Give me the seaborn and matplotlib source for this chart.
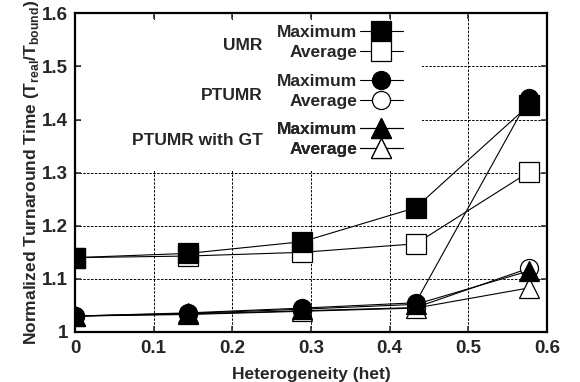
import matplotlib
matplotlib.use("Agg")
import matplotlib.pyplot as plt
from matplotlib.patches import Rectangle
import seaborn as sns

# heterogeneity values on the x axis
het = [0.0, 0.144, 0.289, 0.433, 0.577]

# normalized turnaround time
umr_max = [1.140, 1.148, 1.170, 1.234, 1.427]
umr_avg = [1.140, 1.143, 1.150, 1.166, 1.301]
ptumr_max = [1.030, 1.036, 1.045, 1.055, 1.440]
ptumr_avg = [1.030, 1.034, 1.040, 1.046, 1.120]
gt_max = [1.030, 1.035, 1.043, 1.052, 1.115]
gt_avg = [1.030, 1.033, 1.039, 1.045, 1.083]

xticks = [0, 0.1, 0.2, 0.3, 0.4, 0.5, 0.6]
xtick_labels = ["0", "0.1", "0.2", "0.3", "0.4", "0.5", "0.6"]
yticks = [1.0, 1.1, 1.2, 1.3, 1.4, 1.5, 1.6]
ytick_labels = ["1", "1.1", "1.2", "1.3", "1.4", "1.5", "1.6"]

groups = ["UMR", "PTUMR", "PTUMR with GT"]

sns.set_style("ticks")
plt.rcParams["font.family"] = ["Liberation Sans", "DejaVu Sans"]
plt.rcParams["font.weight"] = "bold"
plt.rcParams["mathtext.fontset"] = "custom"
plt.rcParams["mathtext.rm"] = "Liberation Sans:bold"
plt.rcParams["mathtext.bf"] = "Liberation Sans:bold"

fig = plt.figure(figsize=(5.8, 3.82), dpi=100)
ax = fig.add_axes([0.1293, 0.1309, 0.8138, 0.8343])

# draw order: average first so the filled markers sit on top
series = [
    (umr_avg, "s", "white", 15),
    (umr_max, "s", "black", 15),
    (ptumr_avg, "o", "white", 13),
    (ptumr_max, "o", "black", 13),
    (gt_avg, "^", "white", 14),
    (gt_max, "^", "black", 14),
]
lines = []
for vals, mk, face, ms in series:
    sns.lineplot(x=het, y=vals, ax=ax, color="black", linewidth=0.8,
                 marker=mk, markersize=ms, markerfacecolor=face,
                 markeredgecolor="black", markeredgewidth=0.9)
    lines.append(ax.lines[-1])

ax.set_xlim(0, 0.6)
ax.set_ylim(1.0, 1.6)
ax.set_xticks(xticks, xtick_labels)
ax.set_yticks(yticks, ytick_labels)
tick_len = 4.5
ax.tick_params(direction="in", top=True, right=True, length=tick_len,
               width=1.1, labelsize=13.5, pad=5)
ax.tick_params(axis="x", pad=6)
for lab in ax.get_xticklabels() + ax.get_yticklabels():
    lab.set_fontweight("bold")
for sp in ax.spines.values():
    sp.set_linewidth(1.6)
    sp.set_color("black")

ax.set_axisbelow(True)
ax.grid(True, color="black", linestyle=(0, (2.5, 1.5)), linewidth=0.7)

# white area behind the legend block hides the grid there (ticks stay visible)
bw = fig.get_size_inches() * fig.dpi
ax_px = ax.get_position()
tl_px = tick_len * fig.dpi / 72
dx = tl_px / (ax_px.width * bw[0])
dy = tl_px / (ax_px.height * bw[1])
ax.add_patch(Rectangle((dx, 0.506), 0.735 - dx, 1 - dy - 0.506,
                       transform=ax.transAxes, facecolor="white",
                       edgecolor="none", zorder=1))

ax.set_xlabel("Heterogeneity (het)", fontsize=12.5, fontweight="bold",
              labelpad=7)
ax.set_ylabel(r"Normalized Turnaround Time (T$_{\mathbf{real}}$/T$_{\mathbf{bound}}$)",
              fontsize=12.5, fontweight="bold", labelpad=1)

# legend: three blocks, each with a group name on the left
leg_y = [0.909, 0.755, 0.603]
label_y = [0.900, 0.743, 0.602]
for i, name in enumerate(groups):
    avg_line, max_line = lines[2 * i], lines[2 * i + 1]
    leg = ax.legend([max_line, avg_line], ["Maximum", "Average"],
                    loc="center right", bbox_to_anchor=(0.695, leg_y[i]),
                    bbox_transform=ax.transAxes, frameon=False,
                    borderaxespad=0, borderpad=0, handlelength=2.5,
                    handletextpad=0.15, labelspacing=0.28, markerfirst=False,
                    prop={"size": 12.5, "weight": "bold"})
    ax.add_artist(leg)
    ax.text(0.398, label_y[i], name, transform=ax.transAxes, ha="right",
            va="center", fontsize=12.5, fontweight="bold")

fig.savefig("out.png", dpi=100)
